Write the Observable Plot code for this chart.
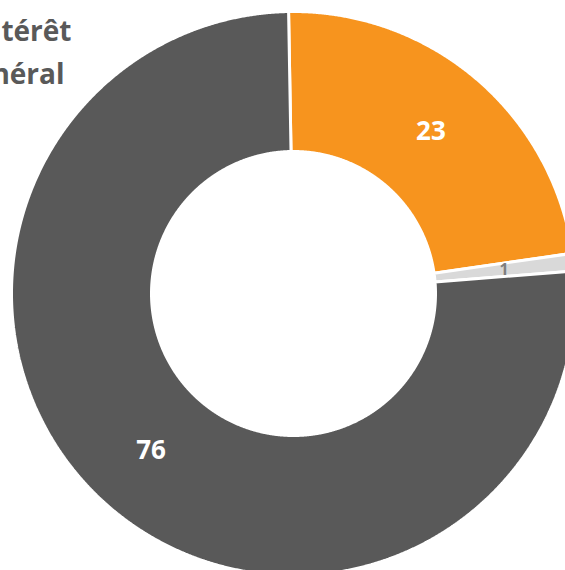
<!DOCTYPE html>
<html>
<head>
<meta charset="utf-8">
<script src="https://cdn.jsdelivr.net/npm/d3@7"></script>
<script src="https://cdn.jsdelivr.net/npm/@observablehq/plot@0.6"></script>
<style>
  html, body { margin: 0; padding: 0; background: #fff; overflow: hidden; }
  #chart svg { display: block; }
</style>
</head>
<body>
<div id="chart"></div>
<script>
// ---- data ----
const categories = ["Oui", "Ne sait pas", "Non"];
const values = [23, 1, 76];
const labels = ["23", "1", "76"];
const colors = ["#F7941E", "#D9D9D9", "#595959"];
const labelColors = ["#FFFFFF", "#7F7F7F", "#FFFFFF"];
const labelSizes = [26, 16, 26];
const titleLines = ["Intérêt", "général"];

// ---- layout ----
const W = 565, H = 570;
const cx = 293, cy = 293, Rpx = 282;
const inner = 142 / 282;
const start = -1 * Math.PI / 180;

const pie = d3.pie().sort(null).startAngle(start).endAngle(start + 2 * Math.PI)(values);

const polys = [];
pie.forEach((p, i) => {
  const n = Math.max(2, Math.ceil((p.endAngle - p.startAngle) / 0.004));
  const pts = [];
  for (let k = 0; k <= n; k++) {
    const a = p.startAngle + (p.endAngle - p.startAngle) * k / n;
    pts.push({cat: categories[i], x: Math.sin(a), y: Math.cos(a)});
  }
  for (let k = n; k >= 0; k--) {
    const a = p.startAngle + (p.endAngle - p.startAngle) * k / n;
    pts.push({cat: categories[i], x: inner * Math.sin(a), y: inner * Math.cos(a)});
  }
  pts.push({...pts[0]});
  polys.push(...pts);
});

const rl = (1 + inner) / 2;
const labelData = pie.map((p, i) => {
  const a = (p.startAngle + p.endAngle) / 2;
  return {cat: categories[i], label: labels[i], x: rl * Math.sin(a), y: rl * Math.cos(a), color: labelColors[i], size: labelSizes[i]};
});

const chart = Plot.plot({
  width: W,
  height: H,
  margin: 0,
  x: {domain: [-cx / Rpx, (W - cx) / Rpx], axis: null},
  y: {domain: [-(H - cy) / Rpx, cy / Rpx], axis: null},
  color: {domain: categories, range: colors},
  style: {background: "#fff", fontFamily: "'Open Sans', sans-serif"},
  marks: [
    Plot.line(polys, {x: "x", y: "y", z: "cat", fill: "cat", stroke: "#fff", strokeWidth: 3, strokeLinejoin: "miter"}),
    ...labelData.map(d => Plot.text([d], {x: "x", y: "y", text: "label", fill: d.color, fontSize: d.size, fontWeight: "bold"})),
    Plot.text([titleLines[0]], {frameAnchor: "top-left", dx: 71, dy: 21, textAnchor: "end", fill: "#595959", fontSize: 28, fontWeight: "bold"}),
    Plot.text([titleLines[1]], {frameAnchor: "top-left", dx: 64, dy: 64, textAnchor: "end", fill: "#595959", fontSize: 28, fontWeight: "bold"})
  ]
});
document.getElementById("chart").appendChild(chart);
</script>
</body>
</html>
